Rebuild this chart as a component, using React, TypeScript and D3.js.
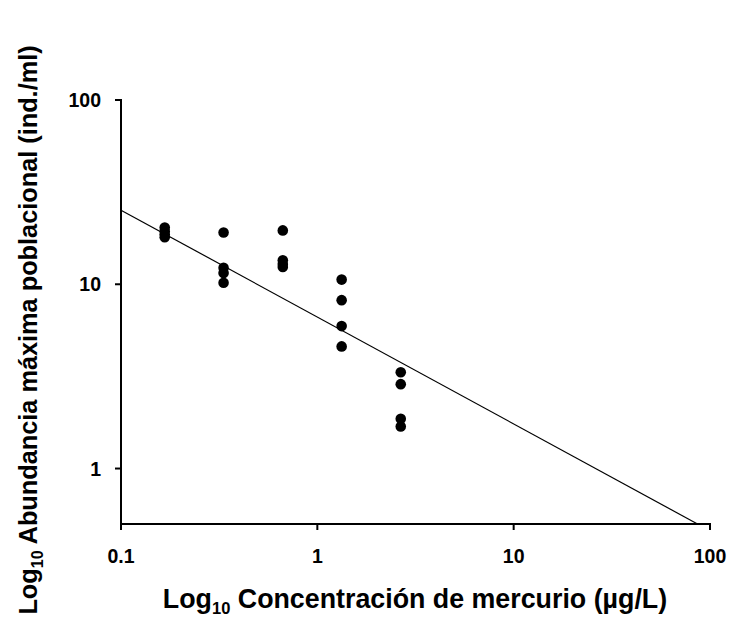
import React from "react";
import * as d3 from "d3";

// Data
const concentrations = [0.167, 0.333, 0.667, 1.33, 2.66];
const abundances: number[][] = [
  [20.3, 19.4, 18.7, 18.0],
  [19.1, 12.3, 11.5, 10.2],
  [19.6, 13.5, 12.9, 12.4],
  [10.6, 8.2, 5.93, 4.6],
  [3.33, 2.87, 1.86, 1.69],
];
const xTicks = [0.1, 1, 10, 100];
const yTicks = [1, 10, 100];
const xTickLabels = ["0.1", "1", "10", "100"];
const yTickLabels = ["1", "10", "100"];
// Regression line y = a * x^b
const fitA = 6.64;
const fitB = -0.58;

const W = 732;
const H = 621;
const m = { left: 121, right: 22, top: 100, bottom: 97 };

export default function App() {
  const x = d3.scaleLog().domain([0.1, 100]).range([m.left, W - m.right]);
  const y = d3.scaleLog().domain([0.5, 100]).range([H - m.bottom, m.top]);
  const font = "'Liberation Sans', Arial, sans-serif";

  const points = concentrations.flatMap((c, i) =>
    abundances[i].map((v) => ({ c, v }))
  );
  const xEnd = Math.pow(0.5 / fitA, 1 / fitB);
  const fitX = [0.1, Math.min(100, xEnd)];
  const line = d3
    .line<number>()
    .x((d) => x(d))
    .y((d) => y(fitA * Math.pow(d, fitB)));

  const x0 = x.range()[0];
  const x1 = x.range()[1];
  const yBottom = y.range()[0];
  const yTop = y.range()[1];

  return (
    <svg
      width={W}
      height={H}
      style={{ position: "absolute", left: 0, top: 0, background: "#fff" }}
      fontFamily={font}
    >
      <rect width={W} height={H} fill="#fff" />
      {/* regression line */}
      <path d={line(fitX) || ""} fill="none" stroke="#000" strokeWidth={1.2} />
      {/* points */}
      {points.map((p, i) => (
        <circle key={i} cx={x(p.c)} cy={y(p.v)} r={5.3} fill="#000" />
      ))}
      {/* axes */}
      <line x1={x0} x2={x0} y1={yTop - 1} y2={yBottom + 6} stroke="#000" strokeWidth={2} />
      <line x1={x0} x2={x1 + 1} y1={yBottom} y2={yBottom} stroke="#000" strokeWidth={2} />
      {xTicks.map((t, i) => (
        <g key={"x" + i}>
          <line x1={x(t)} x2={x(t)} y1={yBottom} y2={yBottom + 6} stroke="#000" strokeWidth={2} />
          <text
            x={x(t)}
            y={563}
            textAnchor="middle"
            fontSize={19.5}
            fontWeight="bold"
          >
            {xTickLabels[i]}
          </text>
        </g>
      ))}
      {yTicks.map((t, i) => (
        <g key={"y" + i}>
          <line x1={x0 - 6} x2={x0} y1={y(t)} y2={y(t)} stroke="#000" strokeWidth={2} />
          <text
            x={101}
            y={y(t) + 7}
            textAnchor="end"
            fontSize={19.5}
            fontWeight="bold"
          >
            {yTickLabels[i]}
          </text>
        </g>
      ))}
      {/* x title */}
      <text x={415} y={608} textAnchor="middle" fontSize={26.8} fontWeight="bold">
        Log
        <tspan fontSize={16.5} dy={6}>10</tspan>
        <tspan dy={-6}> Concentración de mercurio (µg/L)</tspan>
      </text>
      {/* y title */}
      <text
        transform={`translate(37,330) rotate(-90)`}
        textAnchor="middle"
        fontSize={25.3}
        fontWeight="bold"
      >
        Log
        <tspan fontSize={16} dy={6}>10</tspan>
        <tspan dy={-6}> Abundancia máxima poblacional (ind./ml)</tspan>
      </text>
    </svg>
  );
}
